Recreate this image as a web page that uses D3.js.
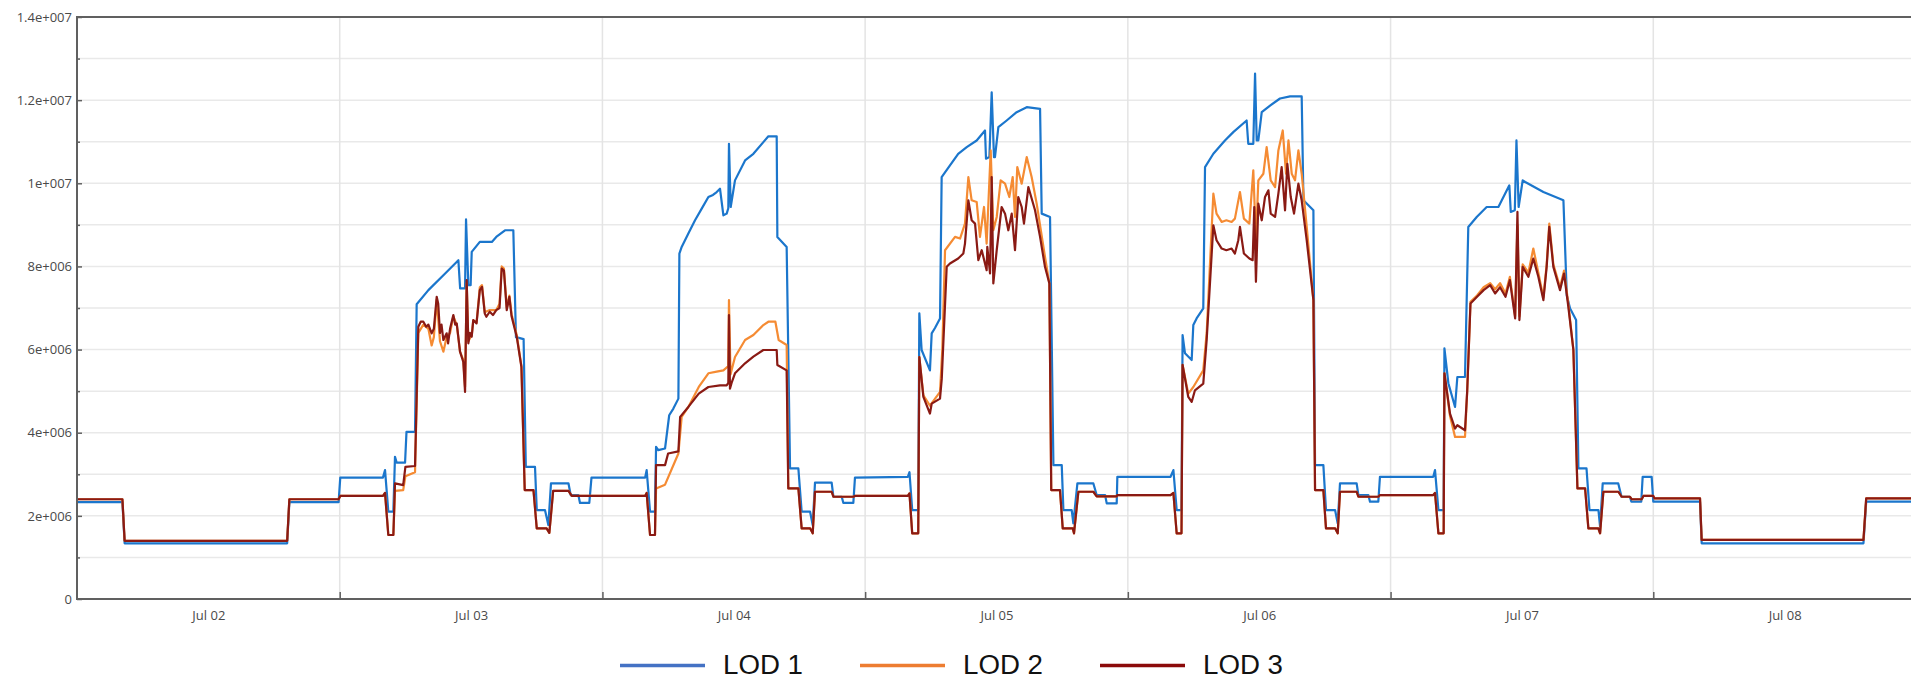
<!DOCTYPE html>
<html>
<head>
<meta charset="utf-8">
<script src="https://cdn.jsdelivr.net/npm/d3@7"></script>
<style>
  html, body { margin: 0; padding: 0; background: #fff; }
  svg { display: block; }
</style>
</head>
<body>
<svg id="chart" width="1911" height="680"></svg>
<script>
// ---------------- DATA ----------------
// hours since Jul 02 00:00, value in millions
const seriesNames = ["LOD 1", "LOD 2", "LOD 3"];
const xTickLabels = ["Jul 02", "Jul 03", "Jul 04", "Jul 05", "Jul 06", "Jul 07", "Jul 08"];
const yTickValues = [0, 2e6, 4e6, 6e6, 8e6, 1e7, 1.2e7, 1.4e7];
const yTickLabels = ["0", "2e+006", "4e+006", "6e+006", "8e+006", "1e+007", "1.2e+007", "1.4e+007"];
const yMinorValues = [1e6, 3e6, 5e6, 7e6, 9e6, 1.1e7, 1.3e7];

const lod1 = [
  [0,2.33],[4.15,2.33],[4.35,1.34],[19.2,1.34],[19.4,2.33],[23.9,2.33],[24.05,2.92],
  [27.95,2.92],[28.14,3.1],[28.44,2.10],[28.9,2.10],[29.05,3.42],[29.2,3.28],[29.97,3.28],[30.1,4.02],[30.88,4.02],[31.03,7.09],[32.1,7.43],[33.47,7.79],[34.84,8.15],[35.0,7.47],[35.45,7.47],[35.54,9.13],[35.75,7.55],[35.96,7.55],[36.06,8.35],[36.8,8.59],[37.9,8.59],[38.3,8.71],[39.1,8.87],[39.86,8.87],[40.1,6.3],[40.8,6.25],[41.0,3.18],[41.84,3.18],[42.0,2.14],[42.75,2.14],[43.06,1.78],[43.3,2.78],[44.9,2.78],[45.1,2.5],[45.8,2.5],[45.95,2.31],[46.8,2.31],[47.0,2.92],
  [51.9,2.92],[52.04,3.1],[52.35,2.10],[52.8,2.10],[52.9,3.66],[53.1,3.58],[53.72,3.62],[54.1,4.42],[54.48,4.58],[54.94,4.82],[55.03,8.31],[55.24,8.47],[55.85,8.79],[56.46,9.11],[57.07,9.39],[57.68,9.67],[58.1,9.72],[58.44,9.79],[58.74,9.87],[59.05,9.23],[59.35,9.27],[59.5,9.4],[59.56,10.95],[59.72,9.43],[60.11,10.07],[61.03,10.55],[61.79,10.71],[62.7,10.99],[63.16,11.13],[63.92,11.13],[63.98,8.71],[64.83,8.47],[65.14,3.14],[65.9,3.14],[66.2,2.10],[66.97,2.10],[67.21,1.78],[67.42,2.80],[68.94,2.80],[69.1,2.46],[69.86,2.46],[70.01,2.31],[70.92,2.31],[71.07,2.92],
  [75.9,2.94],[76.05,3.05],[76.3,2.14],[76.85,2.14],[76.95,6.87],[77.16,5.99],[77.92,5.5],[78.08,6.39],[78.38,6.52],[78.84,6.75],[78.99,10.15],[79.75,10.43],[80.5,10.71],[81.28,10.87],[82.19,11.03],[82.95,11.27],[83.04,10.59],[83.35,10.63],[83.56,12.19],[83.77,10.63],[83.86,10.63],[84.17,11.35],[84.93,11.51],[85.84,11.71],[86.76,11.83],[87.98,11.79],[88.13,9.27],[88.89,9.19],[89.2,3.22],[89.96,3.22],[90.11,2.14],[90.87,2.14],[91.02,1.82],[91.39,2.78],[92.85,2.78],[93.15,2.5],[93.92,2.5],[94.07,2.30],[94.98,2.30],[95.04,2.94],
  [99.9,2.94],[100.16,3.1],[100.46,2.14],[100.9,2.14],[101.0,6.35],[101.22,5.91],[101.83,5.75],[101.98,6.59],[102.28,6.75],[102.89,6.99],[103.05,10.39],[103.81,10.71],[104.87,11.03],[105.63,11.23],[106.85,11.51],[107.0,10.95],[107.46,10.95],[107.62,12.64],[107.77,11.03],[107.92,11.03],[108.23,11.71],[108.99,11.87],[109.9,12.04],[110.82,12.09],[111.88,12.09],[112.04,9.59],[112.95,9.35],[113.1,3.22],[113.86,3.22],[114.1,2.14],[114.93,2.14],[115.17,1.82],[115.38,2.78],[116.9,2.78],[117.06,2.5],[117.97,2.5],[118.12,2.34],[118.88,2.34],[119.03,2.94],
  [123.9,2.94],[124.06,3.1],[124.37,2.14],[124.85,2.14],[124.92,6.03],[125.28,5.19],[125.89,4.62],[126.1,5.34],[126.8,5.34],[127.1,8.95],[127.87,9.19],[128.78,9.43],[129.85,9.43],[130.85,9.95],[130.98,9.31],[131.35,9.35],[131.5,11.03],[131.7,9.43],[132.07,10.07],[132.3,10.03],[133.96,9.79],[135.79,9.59],[136.1,7.3],[136.4,6.99],[136.95,6.71],[137.16,3.14],[137.9,3.14],[138.17,2.14],[138.99,2.14],[139.14,1.74],[139.38,2.78],[140.8,2.78],[141.1,2.46],[141.86,2.46],[142.0,2.34],[142.9,2.34],[143.03,2.94],[143.85,2.94],[144.0,2.34],
  [148.27,2.34],[148.42,1.34],[163.2,1.34],[163.45,2.34],[168,2.34]
];

const lod2 = [
  [0,2.40],[4.15,2.40],[4.35,1.40],[19.2,1.40],[19.4,2.40],[23.9,2.40],[24.05,2.48],
  [27.95,2.48],[28.14,2.55],[28.44,1.54],[28.9,1.54],[29.05,2.6],[29.8,2.62],[30.0,2.95],[30.88,3.05],[31.18,6.4],[31.64,6.6],[32.1,6.5],[32.4,6.1],[32.6,6.3],[32.86,7.2],[33.16,6.2],[33.47,5.95],[33.77,6.3],[34.08,6.4],[34.38,6.8],[34.69,6.6],[34.99,5.95],[35.29,5.75],[35.45,5.1],[35.6,7.6],[35.75,6.2],[36.06,6.35],[36.2,6.7],[36.5,6.65],[36.8,7.5],[37.0,7.55],[37.25,6.9],[37.7,6.95],[38.3,6.95],[38.6,7.1],[38.8,8.0],[39.0,7.95],[39.26,7.0],[39.5,7.3],[39.7,6.85],[40.17,6.35],[40.6,5.6],[40.9,2.62],[41.7,2.62],[42.0,1.70],[42.9,1.70],[43.15,1.59],[43.5,2.6],[44.9,2.6],[45.2,2.48],
  [51.9,2.48],[52.04,2.55],[52.35,1.54],[52.8,1.54],[52.9,2.66],[53.72,2.75],[54.94,3.5],[55.24,4.38],[55.85,4.62],[56.8,5.10],[57.68,5.43],[58.44,5.47],[59.05,5.5],[59.5,5.6],[59.56,7.19],[59.7,5.4],[60.11,5.82],[61.03,6.23],[61.79,6.35],[62.7,6.59],[63.16,6.67],[63.8,6.67],[64.1,6.23],[64.83,6.11],[64.98,2.66],[65.9,2.66],[66.2,1.70],[66.97,1.70],[67.21,1.58],[67.42,2.58],[68.94,2.58],[69.1,2.46],[70.92,2.46],[71.07,2.48],
  [75.9,2.48],[76.05,2.54],[76.3,1.58],[76.85,1.58],[76.95,5.82],[77.32,4.9],[77.92,4.65],[78.84,4.98],[79.05,6.0],[79.3,8.39],[80.21,8.71],[80.67,8.67],[81.12,9.03],[81.43,10.15],[81.73,9.59],[82.19,9.55],[82.49,8.71],[82.86,9.43],[83.1,8.55],[83.47,10.79],[83.71,8.87],[84.02,9.19],[84.38,10.07],[84.78,9.99],[85.17,9.67],[85.48,10.15],[85.69,9.19],[85.9,10.39],[86.3,9.99],[86.76,10.63],[87.21,10.15],[87.67,9.51],[88.43,8.23],[88.83,7.59],[89.0,2.62],[89.8,2.62],[90.05,1.70],[90.96,1.70],[91.08,1.58],[91.48,2.58],[92.85,2.58],[93.15,2.47],[94.98,2.47],[95.04,2.5],
  [99.9,2.5],[100.16,2.55],[100.46,1.58],[100.9,1.58],[101.0,5.63],[101.52,4.94],[101.98,5.1],[102.89,5.5],[103.2,6.4],[103.81,9.75],[104.1,9.27],[104.57,9.07],[105.0,9.11],[105.48,9.07],[105.78,9.15],[106.24,9.79],[106.6,9.15],[107.1,9.03],[107.46,10.31],[107.7,8.63],[107.92,10.07],[108.38,10.23],[108.68,10.87],[109.05,10.07],[109.45,9.91],[109.75,10.79],[110.15,11.27],[110.45,10.23],[110.67,11.03],[110.97,10.23],[111.27,10.07],[111.58,10.79],[111.88,10.23],[112.34,8.95],[112.95,7.19],[113.1,2.62],[113.86,2.62],[114.1,1.70],[114.93,1.70],[115.17,1.58],[115.38,2.58],[116.9,2.58],[117.06,2.46],[118.88,2.46],[119.03,2.5],
  [123.9,2.5],[124.06,2.55],[124.37,1.58],[124.85,1.58],[124.92,5.43],[125.43,4.4],[125.89,3.9],[126.8,3.9],[127.0,5.0],[127.3,7.15],[127.9,7.3],[128.5,7.5],[129.1,7.6],[129.55,7.45],[130.0,7.6],[130.5,7.35],[130.9,7.75],[131.38,6.8],[131.59,9.0],[131.77,6.8],[132.07,8.05],[132.59,7.85],[133.04,8.43],[133.5,7.85],[133.96,7.25],[134.26,8.05],[134.5,9.03],[134.87,8.05],[135.48,7.5],[135.85,7.9],[136.24,7.1],[136.7,6.0],[137.07,2.66],[137.77,2.66],[138.07,1.70],[138.98,1.70],[139.14,1.58],[139.44,2.58],[140.81,2.58],[141.11,2.46],[141.87,2.46],[142.02,2.40],[142.94,2.40],[143.1,2.48],[144.0,2.48],[144.1,2.42],
  [148.27,2.42],[148.42,1.42],[163.2,1.42],[163.45,2.42],[168,2.42]
];

const lod3 = [
  [0,2.40],[4.15,2.40],[4.35,1.40],[19.2,1.40],[19.4,2.40],[23.9,2.40],[24.05,2.48],
  [27.95,2.48],[28.14,2.55],[28.44,1.54],[28.9,1.54],[29.05,2.78],[29.8,2.74],[30.0,3.18],[30.88,3.2],[31.18,6.55],[31.4,6.67],[31.64,6.67],[31.9,6.55],[32.1,6.6],[32.4,6.39],[32.6,6.5],[32.86,7.27],[33.0,7.1],[33.16,6.4],[33.3,6.6],[33.47,6.23],[33.77,6.39],[33.9,6.15],[34.08,6.5],[34.38,6.83],[34.55,6.6],[34.69,6.63],[34.99,5.95],[35.29,5.70],[35.45,4.98],[35.6,7.67],[35.75,6.15],[35.9,6.4],[36.06,6.31],[36.2,6.71],[36.5,6.63],[36.8,7.43],[37.0,7.51],[37.25,6.87],[37.4,6.79],[37.7,6.91],[38.0,6.83],[38.3,6.95],[38.6,7.0],[38.8,7.95],[39.0,7.9],[39.26,6.95],[39.5,7.27],[39.7,6.8],[40.17,6.31],[40.6,5.58],[40.9,2.62],[41.7,2.62],[42.0,1.70],[42.9,1.70],[43.15,1.59],[43.5,2.6],[44.9,2.6],[45.2,2.48],
  [51.9,2.48],[52.04,2.55],[52.35,1.54],[52.8,1.54],[52.9,3.22],[53.72,3.22],[54.0,3.5],[54.94,3.55],[55.1,4.38],[55.85,4.62],[56.8,4.94],[57.68,5.10],[58.74,5.14],[59.35,5.14],[59.5,5.2],[59.56,6.83],[59.65,5.06],[59.8,5.2],[60.11,5.43],[61.03,5.67],[61.79,5.83],[62.7,5.99],[63.92,5.99],[63.98,5.63],[64.83,5.5],[64.98,2.66],[65.9,2.66],[66.2,1.70],[66.97,1.70],[67.21,1.58],[67.42,2.58],[68.94,2.58],[69.1,2.46],[70.92,2.46],[71.07,2.48],
  [75.9,2.48],[76.05,2.54],[76.3,1.58],[76.85,1.58],[76.95,5.82],[77.32,4.86],[77.92,4.46],[78.08,4.7],[78.84,4.82],[79.0,5.3],[79.45,7.99],[79.75,8.07],[80.5,8.19],[80.97,8.31],[81.12,8.55],[81.43,9.59],[81.73,9.11],[82.04,9.03],[82.34,8.15],[82.65,8.39],[83.1,7.91],[83.16,8.47],[83.41,7.83],[83.56,10.15],[83.71,7.59],[84.02,8.39],[84.47,9.43],[84.78,9.27],[85.08,8.87],[85.39,9.27],[85.69,8.39],[85.99,9.67],[86.3,9.43],[86.51,9.03],[86.91,9.91],[87.52,9.35],[87.98,8.71],[88.43,7.99],[88.83,7.59],[89.0,2.62],[89.8,2.62],[90.05,1.70],[90.96,1.70],[91.08,1.58],[91.48,2.58],[92.85,2.58],[93.15,2.47],[94.98,2.47],[95.04,2.5],
  [99.9,2.5],[100.16,2.55],[100.46,1.58],[100.9,1.58],[101.0,5.63],[101.52,4.86],[101.83,4.74],[102.13,5.02],[102.89,5.18],[103.2,6.23],[103.81,8.99],[104.1,8.63],[104.57,8.43],[105.0,8.39],[105.48,8.43],[105.78,8.31],[106.09,8.63],[106.24,8.95],[106.6,8.31],[107.1,8.19],[107.4,8.15],[107.55,9.43],[107.7,7.63],[107.92,9.51],[108.23,9.11],[108.53,9.67],[108.84,9.83],[109.05,9.27],[109.45,9.19],[109.75,9.75],[110.05,10.39],[110.36,9.35],[110.57,10.47],[110.88,9.67],[111.18,9.27],[111.58,9.99],[111.88,9.59],[112.34,8.63],[112.95,7.19],[113.1,2.62],[113.86,2.62],[114.1,1.70],[114.93,1.70],[115.17,1.58],[115.38,2.58],[116.9,2.58],[117.06,2.46],[118.88,2.46],[119.03,2.5],
  [123.9,2.5],[124.06,2.55],[124.37,1.58],[124.85,1.58],[124.92,5.43],[125.43,4.46],[125.89,4.10],[126.1,4.18],[126.8,4.06],[127.0,5.0],[127.3,7.11],[127.9,7.27],[128.5,7.43],[129.1,7.55],[129.55,7.35],[130.0,7.5],[130.5,7.27],[130.9,7.67],[131.38,6.75],[131.59,9.31],[131.77,6.71],[132.07,7.99],[132.59,7.75],[133.04,8.19],[133.5,7.75],[133.96,7.19],[134.26,7.99],[134.5,8.95],[134.87,7.99],[135.48,7.43],[135.85,7.83],[136.24,7.03],[136.7,5.99],[137.07,2.66],[137.77,2.66],[138.07,1.70],[138.98,1.70],[139.14,1.58],[139.44,2.58],[140.81,2.58],[141.11,2.46],[141.87,2.46],[142.02,2.40],[142.94,2.40],[143.1,2.48],[144.0,2.48],[144.1,2.42],
  [148.27,2.42],[148.42,1.42],[163.2,1.42],[163.45,2.42],[168,2.42]
];

// ---------------- CHART ----------------
const W = 1911, H = 680;
const startMs = Date.UTC(2017, 6, 2);
const HOUR = 3600e3;
const toDate = h => new Date(startMs + h * HOUR);

const x = d3.scaleUtc()
  .domain([toDate(0), toDate(168)])
  .range([77, 1916]);
const y = d3.scaleLinear()
  .domain([0, 1.4e7])
  .range([599, 17]);

const svg = d3.select("#chart");
svg.append("rect").attr("width", W).attr("height", H).attr("fill", "#fff");

svg.append("defs").append("clipPath").attr("id", "plotclip")
  .append("rect").attr("x", 77).attr("y", 10).attr("width", W - 77).attr("height", 592);

// gridlines
const grid = svg.append("g");
const allY = yTickValues.concat(yMinorValues).filter(v => v > 0 && v < 1.4e7);
grid.selectAll("line.hg").data(allY).join("line")
  .attr("x1", 78).attr("x2", W)
  .attr("y1", d => y(d)).attr("y2", d => y(d))
  .attr("stroke", "#e9e9e9").attr("stroke-width", 1.5);
const midnights = d3.range(1, 7).map(d => toDate(d * 24));
grid.selectAll("line.vg").data(midnights).join("line")
  .attr("x1", d => x(d)).attr("x2", d => x(d))
  .attr("y1", 18).attr("y2", 599)
  .attr("stroke", "#e4e4e4").attr("stroke-width", 1.5);

// lines
const line = d3.line()
  .x(d => x(toDate(d[0])))
  .y(d => y(d[1] * 1e6))
  .curve(d3.curveLinear);

const series = [
  { name: seriesNames[0], data: lod1, color: "#1b76cc" },
  { name: seriesNames[1], data: lod2, color: "#f58b33" },
  { name: seriesNames[2], data: lod3, color: "#8a1a14" }
];
const lines = svg.append("g").attr("clip-path", "url(#plotclip)");
lines.selectAll("path").data(series).join("path")
  .attr("d", d => line(d.data))
  .attr("fill", "none")
  .attr("stroke", d => d.color)
  .attr("stroke-width", 2.2)
  .attr("stroke-linejoin", "round");

// axis frame
const frameColor = "#606060";
svg.append("line").attr("x1", 77).attr("x2", W).attr("y1", 17).attr("y2", 17)
  .attr("stroke", frameColor).attr("stroke-width", 2);
svg.append("line").attr("x1", 77).attr("x2", 77).attr("y1", 16).attr("y2", 600)
  .attr("stroke", frameColor).attr("stroke-width", 2);
svg.append("line").attr("x1", 76).attr("x2", W).attr("y1", 599).attr("y2", 599)
  .attr("stroke", frameColor).attr("stroke-width", 2);

// y axis (major ticks with labels)
const yAxis = d3.axisLeft(y)
  .tickValues(yTickValues)
  .tickFormat((d, i) => yTickLabels[i])
  .tickSizeInner(-5).tickSizeOuter(0).tickPadding(5);
const gy = svg.append("g").attr("transform", "translate(77,0)").call(yAxis);
gy.select(".domain").remove();
gy.selectAll(".tick line").attr("stroke", frameColor).attr("stroke-width", 1.5);
gy.selectAll("text")
  .attr("font-family", "'Open Sans', 'Noto Sans', sans-serif")
  .attr("font-size", 13).attr("fill", "#4a4a4a");

// y minor ticks
const yMinor = d3.axisLeft(y).tickValues(yMinorValues).tickFormat("").tickSizeInner(-3).tickSizeOuter(0);
const gym = svg.append("g").attr("transform", "translate(77,0)").call(yMinor);
gym.select(".domain").remove();
gym.selectAll(".tick line").attr("stroke", frameColor).attr("stroke-width", 1.5);

// x axis: midnight ticks (inward) and noon labels
const xMid = d3.axisBottom(x).tickValues(midnights).tickFormat("").tickSizeInner(-7).tickSizeOuter(0);
const gxm = svg.append("g").attr("transform", "translate(0,599)").call(xMid);
gxm.select(".domain").remove();
gxm.selectAll(".tick line").attr("stroke", frameColor).attr("stroke-width", 1.5);

const noons = d3.range(0, 7).map(d => toDate(d * 24 + 12));
const xAxis = d3.axisBottom(x).tickValues(noons)
  .tickFormat((d, i) => xTickLabels[i]).tickSize(0).tickPadding(12);
const gx = svg.append("g").attr("transform", "translate(0,599)").call(xAxis);
gx.select(".domain").remove();
gx.selectAll("text")
  .attr("font-family", "'Open Sans', 'Noto Sans', sans-serif")
  .attr("font-size", 13).attr("fill", "#4a4a4a");

// legend
const legendColors = ["#4472c4", "#ed7d31", "#8b0a0a"];
const legend = svg.append("g");
const lg = legend.selectAll("g").data(seriesNames).join("g")
  .attr("transform", (d, i) => `translate(${620 + i * 240},0)`);
lg.append("line")
  .attr("x1", 0).attr("x2", 85).attr("y1", 665.5).attr("y2", 665.5)
  .attr("stroke", (d, i) => legendColors[i]).attr("stroke-width", 3.5);
lg.append("text")
  .attr("x", 103).attr("y", 674)
  .attr("font-family", "'Liberation Sans', Arial, sans-serif")
  .attr("font-size", 27).attr("fill", "#111")
  .attr("textLength", 80).attr("lengthAdjust", "spacingAndGlyphs")
  .text(d => d);
</script>
</body>
</html>
